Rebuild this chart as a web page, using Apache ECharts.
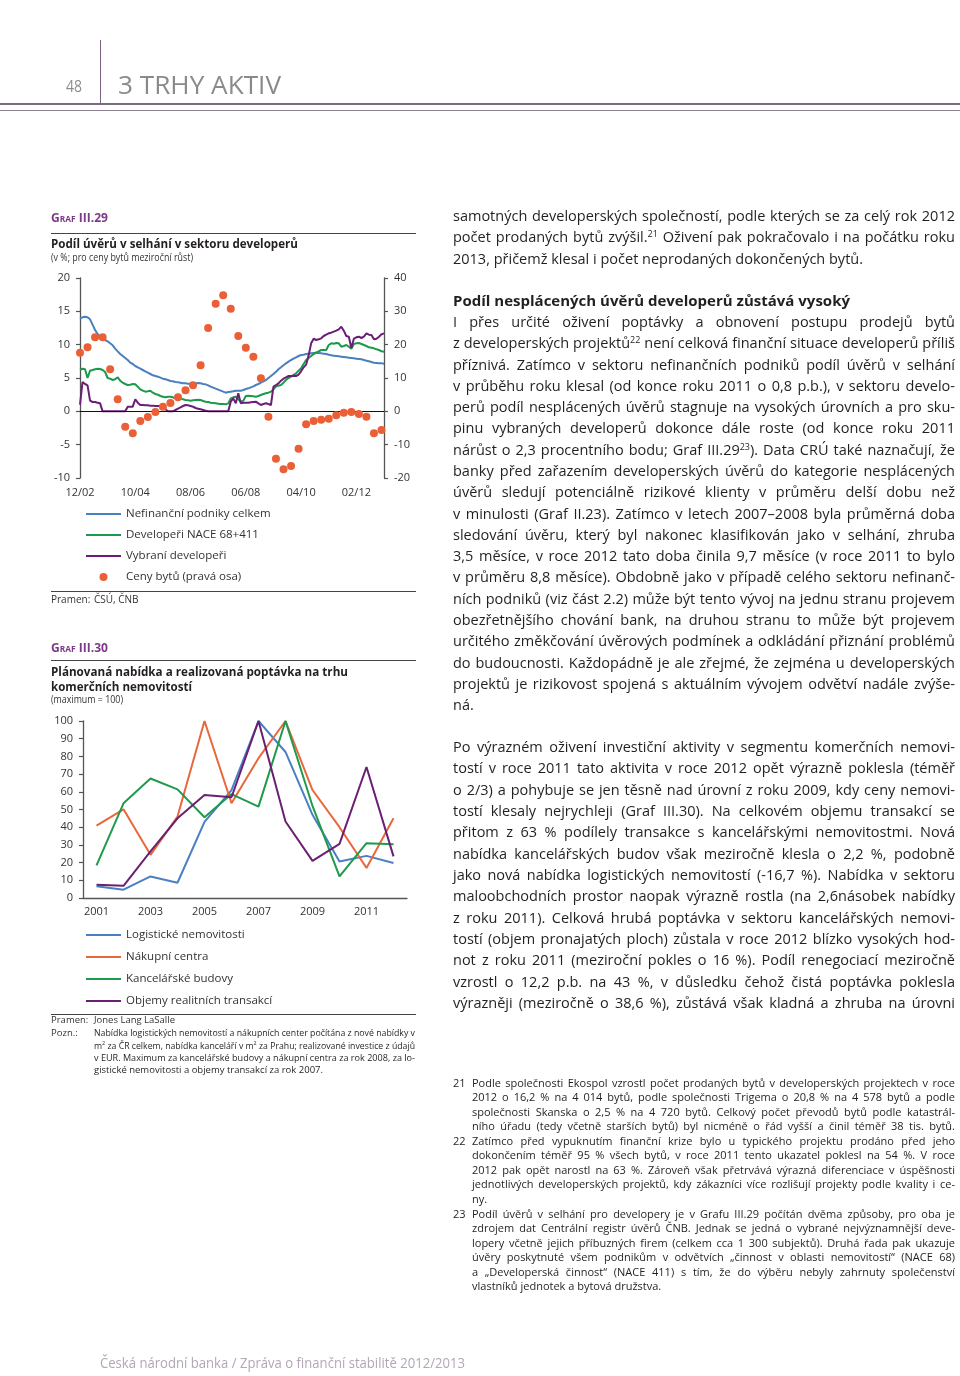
<!DOCTYPE html>
<html><head><meta charset="utf-8">
<script src="https://cdn.jsdelivr.net/npm/echarts@6/dist/echarts.min.js"></script>
<style>
html,body{margin:0;padding:0;background:#fff;}
#page{position:relative;width:960px;height:1376px;overflow:hidden;font-family:'Open Sans',sans-serif;color:#231f20;}
#chart{position:absolute;left:0;top:0;width:960px;height:1376px;}
.t{position:absolute;white-space:nowrap;}
.rule{position:absolute;}
sup{font-size:0.62em;vertical-align:0;position:relative;top:-0.55em;}
</style></head>
<body><div id="page"><div id="chart"></div></div>
<script>
// ---------- Graf III.29 data (monthly, 12/2002 – 01/2013) ----------
const months = [];
for (let y = 2002, m = 12; !(y === 2013 && m === 2);) { months.push(y + '-' + String(m).padStart(2, '0')); m++; if (m > 12) { m = 1; y++; } }
const nefinancniPodniky = [13.9,14.1,14.2,14.1,13.8,13.0,12.2,11.6,11.2,10.9,
10.7,10.5,10.2,9.9,9.4,9.0,8.6,8.3,8.0,7.7,
7.3,7.1,6.8,6.6,6.4,6.2,6.0,5.8,5.6,5.4,
5.3,5.2,5.05,4.9,4.8,4.7,4.55,4.5,4.4,4.35,
4.3,4.2,4.2,4.15,4.15,4.2,4.2,4.25,4.2,4.1,
4.05,3.9,3.7,3.55,3.4,3.25,3.1,2.95,2.8,2.9,
2.95,3.0,3.1,3.1,3.1,3.2,3.35,3.45,3.6,3.75,
3.95,4.1,4.3,4.5,4.7,5.0,5.3,5.6,5.95,6.3,
6.6,6.9,7.2,7.45,7.7,7.9,8.1,8.3,8.45,8.5,
8.6,8.65,8.7,8.75,8.8,8.75,8.7,8.65,8.6,8.5,
8.4,8.35,8.3,8.25,8.2,8.15,8.1,8.05,8.0,7.95,
7.9,7.85,7.8,7.7,7.6,7.5,7.4,7.3,7.25,7.2,
7.2,7.15];
const developeriNace = [6.2,6.4,6.3,5.0,6.1,6.2,6.3,6.4,6.35,6.2,
5.9,5.0,4.9,4.7,4.8,5.1,4.6,4.3,4.1,3.95,
4.0,4.1,4.05,3.7,3.3,3.1,2.95,3.0,3.1,2.8,
2.6,2.5,2.3,2.2,2.1,2.2,2.2,2.1,1.95,2.0,
1.95,1.8,1.7,1.65,1.6,1.65,1.7,1.75,1.7,1.55,
1.45,1.4,1.3,1.25,1.2,1.15,1.1,1.1,1.05,1.2,
1.95,2.1,2.2,1.8,1.45,1.6,2.3,2.35,2.3,2.25,
2.2,2.3,2.45,2.6,2.7,2.8,2.95,3.3,3.7,3.85,
3.95,4.3,4.7,5.0,5.2,5.45,5.7,6.1,6.45,7.1,
7.7,8.0,8.3,8.6,8.8,9.0,9.2,9.2,9.2,9.95,
10.2,10.15,10.25,10.2,9.7,9.8,9.95,9.7,9.4,10.1,
10.2,10.25,10.1,9.95,9.8,9.6,9.55,9.45,9.3,9.2,
9.0,8.95];
const vybraniDeveloperi = [1.0,4.4,4.1,3.9,1.6,1.4,1.4,1.3,1.2,0,
0,0,0,0,0,0,0,0,0,0.7,
0.7,0.7,1.8,1.3,0.95,0.95,0.9,0.9,0.85,0.85,
0.8,0.8,0.8,0.5,0.3,0,0,0,0.2,0.4,
0.6,0.8,0.95,0.9,0.8,0.7,0.5,0.4,0.3,0.2,
0.1,0,0,0,0,0,0,0,0,0,
1.45,1.95,1.2,2.7,1.2,1.3,1.3,1.3,1.35,1.4,
1.45,1.2,0.95,1.1,1.2,1.1,0.95,3.7,3.95,4.2,
4.6,4.9,5.1,5.3,5.3,5.35,5.3,5.5,6.0,6.6,
7.0,8.4,10.2,10.9,10.7,10.8,10.95,11.3,11.5,11.7,
11.8,11.95,12.1,12.3,12.7,12.1,11.3,11.2,9.5,10.9,
11.1,11.2,11.0,11.2,11.7,11.5,11.45,10.8,10.9,11.2,
11.55,11.7];
// quarterly house prices (right axis), 12/2002 – 12/2012
const cenyBytuMesice = months.filter((_, i) => i % 3 === 0).slice(0, 41);
const cenyBytu = [17.6,19.2,22.2,22.2,12.6,3.6,-4.6,-6.6,-2.9,-1.7,
-0.2,1.4,2.5,4.2,6.3,7.8,13.8,25.0,32.3,34.8,
30.8,22.6,19.1,16.4,9.9,-1.6,-14.2,-17.4,-16.4,-11.2,
-3.9,-2.9,-2.5,-2.2,-1.2,-0.4,-0.2,-0.8,-1.6,-6.6,
-5.6];

// ---------- Graf III.30 data (annual, maximum = 100) ----------
const roky = ['2001','2002','2003','2004','2005','2006','2007','2008','2009','2010','2011','2012'];
const logistickeNemovitosti = [6.6,4.7,12.2,8.6,43,61,100,82.5,47,20.6,23.8,19.8];
const nakupniCentra = [40.9,50.1,24.4,46,100,53.5,79,100,61,40,17,45];
const kancelarskeBudovy = [18.4,53.5,67.5,61.4,45.6,58.7,51.6,100,52,12.2,31,30.4];
const objemyTransakci = [7.5,6.9,26.3,45,58.2,56.9,100,43.2,21,30.6,74,23.5];

const FF = "'Open Sans', sans-serif";
const C = {blue:'#4a7fc0', green:'#1c9a4a', purple:'#6b1e77', dot:'#ea5f35', orange:'#e9683b'};
const LINE_ICON = 'path://M0 0H35V2H0Z';
const axisCommon = {
  axisLine:{show:true,lineStyle:{color:'#555',width:1.3}},
  axisTick:{show:true,length:4,lineStyle:{color:'#555',width:1.2}},
  splitLine:{show:false},
  axisLabel:{fontSize:11,color:'#333',margin:10,fontFamily:FF}
};
const chart = echarts.init(document.getElementById('chart'), null, {renderer:'canvas'});
chart.setOption({
  animation:false,
  textStyle:{fontFamily:FF},
  grid:[
    {left:80,top:278,width:304,height:200,outerBoundsMode:'none',containLabel:false},
    {left:83,top:721,width:324,height:177,outerBoundsMode:'none',containLabel:false}
  ],
  xAxis:[
    {gridIndex:0,type:'category',data:months,boundaryGap:false,axisLine:{show:false},axisTick:{show:false},splitLine:{show:false},
     axisLabel:{interval:21,margin:9,fontSize:11,color:'#333',fontFamily:FF,formatter:v=>v.slice(5)+'/'+v.slice(2,4)}},
    {gridIndex:1,type:'category',data:roky,boundaryGap:true,axisLine:{show:true,lineStyle:{color:'#555',width:1.3}},axisTick:{show:false},splitLine:{show:false},
     axisLabel:{interval:1,margin:8,fontSize:11,color:'#333',fontFamily:FF}}
  ],
  yAxis:[
    Object.assign({gridIndex:0,type:'value',min:-10,max:20,interval:5}, axisCommon),
    Object.assign({gridIndex:0,type:'value',position:'right',min:-20,max:40,interval:10}, axisCommon),
    Object.assign({gridIndex:1,type:'value',min:0,max:100,interval:10}, axisCommon)
  ],
  legend:[
    {orient:'vertical',left:86,top:508,padding:0,itemWidth:35,itemHeight:8,itemGap:9,selectedMode:false,
     textStyle:{fontSize:11.5,color:'#333',fontFamily:FF},
     data:[{name:'Nefinanční podniky celkem',icon:LINE_ICON},{name:'Developeři NACE 68+411',icon:LINE_ICON},
           {name:'Vybraní developeři',icon:LINE_ICON},{name:'Ceny bytů (pravá osa)',icon:'circle'}]},
    {orient:'vertical',left:86,top:929,padding:0,itemWidth:35,itemHeight:8,itemGap:10,selectedMode:false,
     textStyle:{fontSize:11.5,color:'#333',fontFamily:FF},
     data:[{name:'Logistické nemovitosti',icon:LINE_ICON},{name:'Nákupní centra',icon:LINE_ICON},
           {name:'Kancelářské budovy',icon:LINE_ICON},{name:'Objemy realitních transakcí',icon:LINE_ICON}]}
  ],
  series:[
    {name:'Nefinanční podniky celkem',type:'line',xAxisIndex:0,yAxisIndex:0,data:nefinancniPodniky,symbol:'none',
     lineStyle:{width:2,color:C.blue},itemStyle:{color:C.blue},
     markLine:{silent:true,symbol:'none',label:{show:false},lineStyle:{color:'#111',width:1,type:'solid'},data:[{yAxis:0}]}},
    {name:'Developeři NACE 68+411',type:'line',xAxisIndex:0,yAxisIndex:0,data:developeriNace,symbol:'none',
     lineStyle:{width:2,color:C.green},itemStyle:{color:C.green}},
    {name:'Vybraní developeři',type:'line',xAxisIndex:0,yAxisIndex:0,data:vybraniDeveloperi,symbol:'none',
     lineStyle:{width:2,color:C.purple},itemStyle:{color:C.purple}},
    {name:'Ceny bytů (pravá osa)',type:'scatter',xAxisIndex:0,yAxisIndex:1,symbolSize:8,
     data:cenyBytuMesice.map((m,i)=>[m,cenyBytu[i]]),itemStyle:{color:C.dot,opacity:1},z:5},
    {name:'Logistické nemovitosti',type:'line',xAxisIndex:1,yAxisIndex:2,data:logistickeNemovitosti,symbol:'none',
     lineStyle:{width:2,color:'#4a80c2'},itemStyle:{color:'#4a80c2'}},
    {name:'Nákupní centra',type:'line',xAxisIndex:1,yAxisIndex:2,data:nakupniCentra,symbol:'none',
     lineStyle:{width:2,color:C.orange},itemStyle:{color:C.orange}},
    {name:'Kancelářské budovy',type:'line',xAxisIndex:1,yAxisIndex:2,data:kancelarskeBudovy,symbol:'none',
     lineStyle:{width:2,color:'#1f9a4b'},itemStyle:{color:'#1f9a4b'}},
    {name:'Objemy realitních transakcí',type:'line',xAxisIndex:1,yAxisIndex:2,data:objemyTransakci,symbol:'none',
     lineStyle:{width:2,color:'#6b1f73'},itemStyle:{color:'#6b1f73'}}
  ]
});

// ---------- page text ----------
const page = document.getElementById('page');
function fit(el, w, mode){
  const nat = el.getBoundingClientRect().width;
  if (mode === 'j') {
    const n = (el.textContent.match(/ /g) || []).length;
    if (nat < w && n > 0) el.style.wordSpacing = ((w - nat) / n) + 'px';
    else if (nat > w) { el.style.transformOrigin = '0 50%'; el.style.transform = 'scaleX(' + (w / nat) + ')'; }
  } else if (mode === 's') {
    el.style.transformOrigin = '0 50%'; el.style.transform = 'scaleX(' + (w / nat) + ')';
  } else if (mode === 'm' && nat > w) {
    el.style.transformOrigin = '0 50%'; el.style.transform = 'scaleX(' + (w / nat) + ')';
  }
}
function put(html, x, yc, o){
  o = o || {};
  const fs = o.fs || 14.5;
  const d = document.createElement('div');
  d.className = 't';
  d.innerHTML = html;
  d.style.fontSize = fs + 'px';
  d.style.lineHeight = (fs * 1.3) + 'px';
  d.style.left = x + 'px';
  d.style.top = (yc - fs * 0.72) + 'px';
  if (o.bold) d.style.fontWeight = '700';
  if (o.color) d.style.color = o.color;
  if (o.sc) d.style.fontVariant = 'small-caps';
  page.appendChild(d);
  if (o.w) fit(d, o.w, o.mode || 'j');
  return d;
}
function rule(x, y, w, h, color){
  const d = document.createElement('div'); d.className = 'rule';
  d.style.left = x + 'px'; d.style.top = y + 'px'; d.style.width = w + 'px'; d.style.height = h + 'px'; d.style.background = color;
  page.appendChild(d);
}
function para(lines, x, y0, lh, w, fs, lastJust){
  lines.forEach((l, i) => {
    const last = i === lines.length - 1;
    put(l, x, y0 + i * lh, {fs: fs, w: w, mode: (last && !lastJust) ? 'm' : 'j'});
  });
}

// header
rule(99.5, 40, 1.3, 64, '#7d5f82');
rule(0, 103, 960, 2, '#7a6a80');
rule(0, 109.5, 960, 1.2, '#8e7f93');
put('48', 66, 88, {fs:16, color:'#8d8d8d', w:16, mode:'s'});
put('3 TRHY AKTIV', 118, 87, {fs:26, color:'#8a8a8a', w:163, mode:'s'});

// Graf III.29 texts
put('Graf III.29', 51, 218, {fs:13, bold:true, sc:true, color:'#7b3a87', w:57, mode:'s'});
rule(51, 232.5, 365, 1.4, '#444');
put('Podíl úvěrů v selhání v sektoru developerů', 51, 244.5, {fs:12.5, bold:true, w:247, mode:'s'});
put('(v %; pro ceny bytů meziroční růst)', 51, 258, {fs:10, color:'#333', w:142, mode:'s'});
rule(51, 590.5, 365, 1.4, '#444');
put('Pramen:', 51, 600, {fs:10, color:'#333'});
put('ČSÚ, ČNB', 94, 600, {fs:10, color:'#333'});

// Graf III.30 texts
put('Graf III.30', 51, 648, {fs:13, bold:true, sc:true, color:'#7b3a87', w:57, mode:'s'});
rule(51, 660, 365, 1.4, '#444');
put('Plánovaná nabídka a realizovaná poptávka na trhu', 51, 672.5, {fs:12.5, bold:true, w:297, mode:'s'});
put('komerčních nemovitostí', 51, 687.5, {fs:12.5, bold:true, w:141, mode:'s'});
put('(maximum = 100)', 51, 700.5, {fs:10, color:'#333', w:72, mode:'s'});
rule(51, 1013.5, 365, 1.4, '#444');
put('Pramen:', 51, 1021, {fs:9.5, color:'#333'});
put('Jones Lang LaSalle', 94, 1021, {fs:9.5, color:'#333'});
put('Pozn.:', 51, 1034, {fs:9.5, color:'#333'});
para([
  'Nabídka logistických nemovitostí a nákupních center počítána z nové nabídky v',
  'm<sup>2</sup> za ČR celkem, nabídka kanceláří v m<sup>2</sup> za Prahu; realizované investice z údajů',
  'v EUR. Maximum za kancelářské budovy a nákupní centra za rok 2008, za lo-',
  'gistické nemovitosti a objemy transakcí za rok 2007.'
], 94, 1034, 12.4, 321, 9.5, false);

// body text
const BX = 453, BW = 502, BFS = 14.5;
para([
  'samotných developerských společností, podle kterých se za celý rok 2012',
  'počet prodaných bytů zvýšil.<sup>21</sup> Oživení pak pokračovalo i na počátku roku',
  '2013, přičemž klesal i počet neprodaných dokončených bytů.'
], BX, 217.5, 21.3, BW, BFS, false);
put('Podíl nesplácených úvěrů developerů zůstává vysoký', BX, 302.5, {fs:14.5, bold:true, w:397, mode:'s'});
para([
  'I přes určité oživení poptávky a obnovení postupu prodejů bytů',
  'z developerských projektů<sup>22</sup> není celková finanční situace developerů příliš',
  'příznivá. Zatímco v sektoru nefinančních podniků podíl úvěrů v selhání',
  'v průběhu roku klesal (od konce roku 2011 o 0,8 p.b.), v sektoru develo-',
  'perů podíl nesplácených úvěrů stagnuje na vysokých úrovních a pro sku-',
  'pinu vybraných developerů dokonce dále roste (od konce roku 2011',
  'nárůst o 2,3 procentního bodu; Graf III.29<sup>23</sup>). Data CRÚ také naznačují, že',
  'banky před zařazením developerských úvěrů do kategorie nesplácených',
  'úvěrů sledují potenciálně rizikové klienty v průměru delší dobu než',
  'v minulosti (Graf II.23). Zatímco v letech 2007–2008 byla průměrná doba',
  'sledování úvěru, který byl nakonec klasifikován jako v selhání, zhruba',
  '3,5 měsíce, v roce 2012 tato doba činila 9,7 měsíce (v roce 2011 to bylo',
  'v průměru 8,8 měsíce). Obdobně jako v případě celého sektoru nefinanč-',
  'ních podniků (viz část 2.2) může být tento vývoj na jednu stranu projevem',
  'obezřetnějšího chování bank, na druhou stranu to může být projevem',
  'určitého změkčování úvěrových podmínek a odkládání přiznání problémů',
  'do budoucnosti. Každopádně je ale zřejmé, že zejména u developerských',
  'projektů je rizikovost spojená s aktuálním vývojem odvětví nadále zvýše-',
  'ná.'
], BX, 323.5, 21.28, BW, BFS, false);
para([
  'Po výrazném oživení investiční aktivity v segmentu komerčních nemovi-',
  'tostí v roce 2011 tato aktivita v roce 2012 opět výrazně poklesla (téměř',
  'o 2/3) a pohybuje se jen těsně nad úrovní z roku 2009, kdy ceny nemovi-',
  'tostí klesaly nejrychleji (Graf III.30). Na celkovém objemu transakcí se',
  'přitom z 63 % podílely transakce s kancelářskými nemovitostmi. Nová',
  'nabídka kancelářských budov však meziročně klesla o 2,2 %, podobně',
  'jako nová nabídka logistických nemovitostí (-16,7 %). Nabídka v sektoru',
  'maloobchodních prostor naopak výrazně rostla (na 2,6násobek nabídky',
  'z roku 2011). Celková hrubá poptávka v sektoru kancelářských nemovi-',
  'tostí (objem pronajatých ploch) zůstala v roce 2012 blízko vysokých hod-',
  'not z roku 2011 (meziroční pokles o 16 %). Podíl renegociací meziročně',
  'vzrostl o 12,2 p.b. na 43 %, v důsledku čehož čistá poptávka poklesla',
  'výrazněji (meziročně o 38,6 %), zůstává však kladná a zhruba na úrovni'
], BX, 748.5, 21.33, BW, BFS, true);

// footnotes
const FX = 472, FW = 483, FFS = 11, FLH = 14.5;
put('21', BX, 1083.5, {fs:FFS});
para([
  'Podle společnosti Ekospol vzrostl počet prodaných bytů v developerských projektech v roce',
  '2012 o 16,2 % na 4 014 bytů, podle společnosti Trigema o 20,8 % na 4 578 bytů a podle',
  'společnosti Skanska o 2,5 % na 4 720 bytů. Celkový počet převodů bytů podle katastrál-',
  'ního úřadu (tedy včetně starších bytů) byl nicméně o řád vyšší a činil téměř 38 tis. bytů.'
], FX, 1083.5, FLH, FW, FFS, true);
put('22', BX, 1141.5, {fs:FFS});
para([
  'Zatímco před vypuknutím finanční krize bylo u typického projektu prodáno před jeho',
  'dokončením téměř 95 % všech bytů, v roce 2011 tento ukazatel poklesl na 54 %. V roce',
  '2012 pak opět narostl na 63 %. Zároveň však přetrvává výrazná diferenciace v úspěšnosti',
  'jednotlivých developerských projektů, kdy zákazníci více rozlišují projekty podle kvality i ce-',
  'ny.'
], FX, 1141.5, FLH, FW, FFS, false);
put('23', BX, 1214.5, {fs:FFS});
para([
  'Podíl úvěrů v selhání pro developery je v Grafu III.29 počítán dvěma způsoby, pro oba je',
  'zdrojem dat Centrální registr úvěrů ČNB. Jednak se jedná o vybrané nejvýznamnější deve-',
  'lopery včetně jejich příbuzných firem (celkem cca 1 300 subjektů). Druhá řada pak ukazuje',
  'úvěry poskytnuté všem podnikům v odvětvích „činnost v oblasti nemovitostí“ (NACE 68)',
  'a „Developerská činnost“ (NACE 411) s tím, že do výběru nebyly zahrnuty společenství',
  'vlastníků jednotek a bytová družstva.'
], FX, 1214.5, FLH, FW, FFS, false);

// footer
put('Česká národní banka / Zpráva o finanční stabilitě 2012/2013', 100, 1364, {fs:15, color:'#b3a6b6', w:365, mode:'s'});
</script>
</body></html>
